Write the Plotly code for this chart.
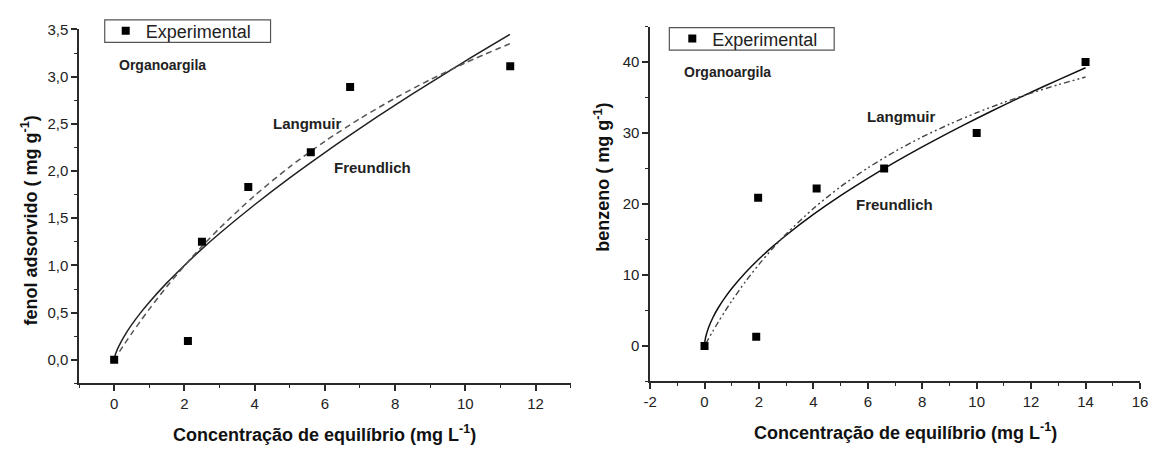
import plotly.graph_objects as go

# ---------------- Left panel: fenol ----------------
fenol_exp_C = [0, 2.1, 2.5, 3.82, 5.6, 6.72, 11.28]
fenol_exp_q = [0, 0.2, 1.25, 1.83, 2.2, 2.89, 3.11]

fenol_freund_C = [0.0, 0.02, 0.05, 0.1, 0.2, 0.35, 0.5, 0.75, 1, 1.5, 2, 2.5, 3, 4, 5, 6, 7, 8, 9, 10, 11.27]
fenol_freund_q = [0.0, 0.037, 0.072, 0.118, 0.193, 0.288, 0.372, 0.497, 0.61, 0.815, 1.0, 1.175,
                  1.338, 1.643, 1.928, 2.196, 2.452, 2.698, 2.935, 3.165, 3.447]

fenol_lang_C = [0.15, 0.3, 0.5, 0.75, 1, 1.5, 2, 2.5, 3, 4, 5, 6, 7, 8, 9, 10, 11.27]
fenol_lang_q = [0.086, 0.171, 0.28, 0.411, 0.537, 0.776, 0.996, 1.202, 1.393, 1.739, 2.044, 2.315,
                2.555, 2.772, 2.968, 3.146, 3.35]

# ---------------- Right panel: benzeno ----------------
benz_exp_C = [0, 1.9, 1.97, 4.12, 6.6, 10.0, 14.0]
benz_exp_q = [0, 1.3, 20.9, 22.2, 25.0, 30.0, 40.0]

benz_freund_C = [0.0, 0.01, 0.03, 0.07, 0.15, 0.3, 0.5, 0.75, 1, 1.5, 2, 2.5, 3, 4, 5, 6, 7, 8, 9, 10, 11, 12, 13, 14]
benz_freund_q = [0.0, 0.52, 0.99, 1.65, 2.6, 3.94, 5.35, 6.81, 8.09, 10.31, 12.25, 13.99, 15.6, 18.53,
                 21.18, 23.62, 25.9, 28.05, 30.1, 32.06, 33.94, 35.75, 37.5, 39.2]

benz_lang_C = [0.05, 0.15, 0.3, 0.5, 0.75, 1, 1.5, 2, 2.5, 3, 4, 5, 6, 7, 8, 9, 10, 11, 12, 13, 14]
benz_lang_q = [0.35, 1.04, 2.05, 3.34, 4.88, 6.34, 9.05, 11.5, 13.73, 15.77, 19.37, 22.44, 25.09,
               27.41, 29.45, 31.25, 32.87, 34.32, 35.63, 36.82, 37.9]

# tick labels of the right x axis (plain hyphen minus as in the original)
benz_x_tickvals = [-2, 0, 2, 4, 6, 8, 10, 12, 14, 16]
benz_x_ticktext = ["-2", "0", "2", "4", "6", "8", "10", "12", "14", "16"]

W, H = 1162, 452
def px(x):
    return x / W
def py(y):
    return 1 - y / H

FONT = "Liberation Sans, Arial, sans-serif"
AX = "#2a2a2a"

fig = go.Figure()

# left
fig.add_trace(go.Scatter(x=fenol_freund_C, y=fenol_freund_q, mode="lines",
                         line=dict(color="#222", width=1.5, shape="spline", smoothing=0.8),
                         showlegend=False, xaxis="x", yaxis="y"))
fig.add_trace(go.Scatter(x=fenol_lang_C, y=fenol_lang_q, mode="lines",
                         line=dict(color="#555", width=1.5, dash="6px,4px", shape="spline", smoothing=0.8),
                         showlegend=False, xaxis="x", yaxis="y"))
fig.add_trace(go.Scatter(x=fenol_exp_C, y=fenol_exp_q, mode="markers", name="Experimental",
                         marker=dict(symbol="square", size=8, color="black"), legend="legend", xaxis="x", yaxis="y"))

# right
fig.add_trace(go.Scatter(x=benz_freund_C, y=benz_freund_q, mode="lines",
                         line=dict(color="#111", width=1.5, shape="spline", smoothing=0.8),
                         showlegend=False, xaxis="x2", yaxis="y2"))
fig.add_trace(go.Scatter(x=benz_lang_C, y=benz_lang_q, mode="lines",
                         line=dict(color="#444", width=1.4, dash="6px,3px,2px,3px,2px,3px", shape="spline", smoothing=0.8),
                         showlegend=False, xaxis="x2", yaxis="y2"))
fig.add_trace(go.Scatter(x=benz_exp_C, y=benz_exp_q, mode="markers", name="Experimental",
                         marker=dict(symbol="square", size=8, color="black"), legend="legend2", xaxis="x2", yaxis="y2"))

axis_common = dict(showgrid=False, zeroline=False, showline=True, linecolor=AX, linewidth=1.5,
                   ticks="outside", ticklen=6, tickwidth=1.5, tickcolor=AX,
                   tickfont=dict(family=FONT, size=15, color="#222"), mirror=False)
minor_common = dict(ticks="outside", ticklen=3, tick0=0, tickcolor=AX, tickwidth=1.2)

legend_common = dict(xanchor="left", yanchor="middle", bgcolor="rgba(0,0,0,0)",
                     borderwidth=0, font=dict(family=FONT, size=18, color="#222"),
                     itemwidth=30, tracegroupgap=0)

fig.update_layout(
    width=W, height=H,
    margin=dict(l=0, r=0, t=0, b=0),
    paper_bgcolor="white", plot_bgcolor="white",
    separators=", ",
    font=dict(family=FONT),
    xaxis=dict(domain=[px(73), px(571)], range=[-1, 13], tick0=0, dtick=2, anchor="y",
               minor=dict(dtick=1, **minor_common), **axis_common),
    yaxis=dict(domain=[py(382), py(20.7)], range=[-0.25, 3.502], tick0=0, dtick=0.5, tickformat=".1f", anchor="x",
               minor=dict(dtick=0.25, **minor_common), **axis_common),
    xaxis2=dict(domain=[px(651.5), px(1147.8)], range=[-2, 16], tickmode="array",
                tickvals=benz_x_tickvals, ticktext=benz_x_ticktext, anchor="y2",
                minor=dict(dtick=1, **minor_common), **axis_common),
    yaxis2=dict(domain=[py(380), py(18)], range=[-5, 45], tick0=0, dtick=10, anchor="x2",
                minor=dict(dtick=5, **minor_common), **axis_common),
    legend=dict(x=px(100), y=py(22.5), **legend_common),
    legend2=dict(x=px(674), y=py(30.5), **legend_common),
    shapes=[
        dict(type="rect", xref="paper", yref="paper", x0=px(99), x1=px(267), y0=py(34), y1=py(11),
             line=dict(color="#555", width=1.2), fillcolor="rgba(0,0,0,0)", layer="below"),
        dict(type="rect", xref="paper", yref="paper", x0=px(671), x1=px(838), y0=py(42), y1=py(19),
             line=dict(color="#555", width=1.2), fillcolor="rgba(0,0,0,0)", layer="below"),
    ],
)

org_font = dict(family=FONT, size=14, color="#222")
lab_font = dict(family=FONT, size=15, color="#222")
title_font = dict(family=FONT, size=18, color="#111")
ann = [
    # left labels
    dict(x=0.08, y=3.12, xref="x", yref="y", text="<b>Organoargila</b>", xanchor="left", yanchor="middle", font=org_font),
    dict(x=4.48, y=2.5, xref="x", yref="y", text="<b>Langmuir</b>", xanchor="left", yanchor="middle", font=lab_font),
    dict(x=6.19, y=2.04, xref="x", yref="y", text="<b>Freundlich</b>", xanchor="left", yanchor="middle", font=lab_font),
    # right labels
    dict(x=-0.83, y=38.6, xref="x2", yref="y2", text="<b>Organoargila</b>", xanchor="left", yanchor="middle", font=org_font),
    dict(x=5.89, y=32.4, xref="x2", yref="y2", text="<b>Langmuir</b>", xanchor="left", yanchor="middle", font=lab_font),
    dict(x=5.5, y=19.95, xref="x2", yref="y2", text="<b>Freundlich</b>", xanchor="left", yanchor="middle", font=lab_font),
    # axis titles
    dict(x=px(322), y=py(433), xref="paper", yref="paper", text="<b>Concentração de equilíbrio (mg L<sup>-1</sup>)</b>",
         xanchor="center", yanchor="middle", font=title_font),
    dict(x=px(910), y=py(431), xref="paper", yref="paper", text="<b>Concentração de equilíbrio (mg L<sup>-1</sup>)</b>",
         xanchor="center", yanchor="middle", font=title_font),
    dict(x=px(23), y=py(216), xref="paper", yref="paper", text="<b>fenol adsorvido ( mg g<sup>-1</sup>)</b>",
         xanchor="center", yanchor="middle", textangle=-90, font=title_font),
    dict(x=px(603), y=py(172), xref="paper", yref="paper", text="<b>benzeno ( mg g<sup>-1</sup>)</b>",
         xanchor="center", yanchor="middle", textangle=-90, font=title_font),
]
for a in ann:
    a["showarrow"] = False
fig.update_layout(annotations=ann)

fig.write_html("out.html")
